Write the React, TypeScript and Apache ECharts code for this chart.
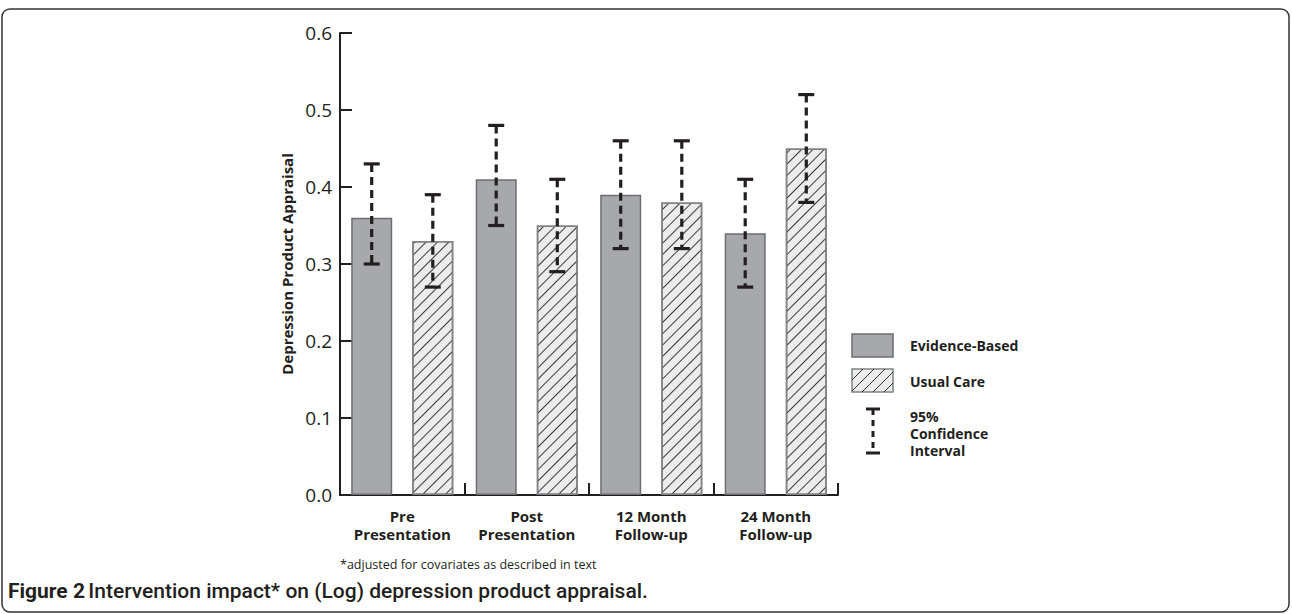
import React, { useEffect, useRef } from "react";
import * as echarts from "echarts";

const categories = ["Pre\nPresentation", "Post\nPresentation", "12 Month\nFollow-up", "24 Month\nFollow-up"];
const evidenceBased = [0.36, 0.41, 0.39, 0.34];
const evidenceLow = [0.30, 0.35, 0.32, 0.27];
const evidenceHigh = [0.43, 0.48, 0.46, 0.41];
const usualCare = [0.33, 0.35, 0.38, 0.45];
const usualLow = [0.27, 0.29, 0.32, 0.38];
const usualHigh = [0.39, 0.41, 0.46, 0.52];
const yTicks = [0, 0.1, 0.2, 0.3, 0.4, 0.5, 0.6];

const INK = "#231f20";
const BAR_W = 41;
const GAP_RATIO = 0.49;
const OFFSET = (BAR_W + BAR_W * GAP_RATIO) / 2;

function errorSeries(name: string, lows: number[], highs: number[], offset: number) {
  return {
    name,
    type: "custom",
    z: 10,
    data: lows.map((lo, i) => [i, lo, highs[i]]),
    encode: { x: 0, y: [1, 2] },
    renderItem: (_params: any, api: any) => {
      const i = api.value(0);
      const lo = api.coord([i, api.value(1)]);
      const hi = api.coord([i, api.value(2)]);
      const x = lo[0] + offset;
      const cap = 8;
      return {
        type: "group",
        children: [
          { type: "line", shape: { x1: x, y1: hi[1], x2: x, y2: lo[1] }, style: { stroke: INK, lineWidth: 3.2, lineDash: [8, 5] } },
          { type: "line", shape: { x1: x - cap, y1: hi[1], x2: x + cap, y2: hi[1] }, style: { stroke: INK, lineWidth: 3.2 } },
          { type: "line", shape: { x1: x - cap, y1: lo[1], x2: x + cap, y2: lo[1] }, style: { stroke: INK, lineWidth: 3.2 } },
        ],
      };
    },
  };
}

export default function App() {
  const ref = useRef<HTMLDivElement>(null);
  useEffect(() => {
    if (!ref.current) return;
    const chart = echarts.init(ref.current, null, { renderer: "svg" });
    const font = "'Open Sans', sans-serif";
    const hatchLines = [] as any[];
    // legend hatch swatch lines
    const sx = 852, sy = 369, sw = 41, sh = 23;
    for (let k = -sh; k < sw; k += 11) {
      const x1 = Math.max(sx, sx + k);
      const y1 = sy + sh - (x1 - (sx + k));
      const x2 = Math.min(sx + sw, sx + k + sh);
      const y2 = sy + sh - (x2 - (sx + k));
      hatchLines.push({ type: "line", shape: { x1, y1, x2, y2 }, style: { stroke: "#333", lineWidth: 1 } });
    }
    chart.setOption({
      animation: false,
      backgroundColor: "#fff",
      textStyle: { fontFamily: font },
      grid: { left: 340, right: 454, top: 33, bottom: 119 },
      xAxis: {
        type: "category",
        data: categories,
        axisLine: { lineStyle: { color: INK, width: 2 } },
        axisTick: { show: true, interval: 0, inside: true, length: 12, lineStyle: { color: INK, width: 2 } },
        axisLabel: { interval: 0, color: INK, fontFamily: font, fontWeight: "bold", fontSize: 15, lineHeight: 18, margin: 12 },
      },
      yAxis: {
        type: "value",
        min: 0,
        max: 0.6,
        interval: 0.1,
        name: "Depression Product Appraisal",
        nameLocation: "middle",
        nameRotate: 90,
        nameGap: 46,
        nameTextStyle: { color: INK, fontFamily: font, fontWeight: "bold", fontSize: 15 },
        splitLine: { show: false },
        axisLine: { show: true, lineStyle: { color: INK, width: 2 } },
        axisTick: { show: true, inside: true, length: 12, lineStyle: { color: INK, width: 2 } },
        axisLabel: {
          color: INK,
          fontSize: 19,
          margin: 8,
          fontFamily: font,
          formatter: (v: number) => (yTicks.some((t) => Math.abs(t - v) < 1e-9) ? v.toFixed(1) : ""),
        },
      },
      series: [
        {
          name: "Evidence-Based",
          type: "bar",
          data: evidenceBased,
          barWidth: BAR_W,
          barGap: GAP_RATIO * 100 + "%",
          itemStyle: { color: "#a7a8ab", borderColor: "#6d6e71", borderWidth: 1.5 },
        },
        {
          name: "Usual Care",
          type: "bar",
          data: usualCare,
          barWidth: BAR_W,
          itemStyle: {
            color: "#ececec",
            borderColor: "#808285",
            borderWidth: 1.5,
            decal: {
              symbol: "rect",
              symbolSize: 1,
              color: "#3a3a3a",
              dashArrayX: [1, 0],
              dashArrayY: [1, 7],
              rotation: -Math.PI / 4,
            },
          },
        },
        errorSeries("Evidence CI", evidenceLow, evidenceHigh, -OFFSET),
        errorSeries("Usual CI", usualLow, usualHigh, OFFSET),
      ],
      graphic: [
        { type: "rect", shape: { x: 2, y: 9, width: 1287, height: 603, r: 8 }, style: { fill: "none", stroke: "#333", lineWidth: 1.5 }, z: 0 },
        { type: "rect", shape: { x: 852, y: 334, width: 41, height: 23 }, style: { fill: "#a7a8ab", stroke: "#6d6e71", lineWidth: 1.5 } },
        { type: "rect", shape: { x: sx, y: sy, width: sw, height: sh }, style: { fill: "#ececec", stroke: "#808285", lineWidth: 1.5 } },
        ...hatchLines,
        { type: "text", x: 910, y: 345, style: { text: "Evidence-Based", fill: INK, font: `bold 14px ${font}`, textVerticalAlign: "middle" } },
        { type: "text", x: 910, y: 381, style: { text: "Usual Care", fill: INK, font: `bold 14px ${font}`, textVerticalAlign: "middle" } },
        { type: "line", shape: { x1: 873, y1: 409, x2: 873, y2: 453 }, style: { stroke: INK, lineWidth: 3, lineDash: [6, 5] } },
        { type: "line", shape: { x1: 866, y1: 409, x2: 880, y2: 409 }, style: { stroke: INK, lineWidth: 3 } },
        { type: "line", shape: { x1: 866, y1: 453, x2: 880, y2: 453 }, style: { stroke: INK, lineWidth: 3 } },
        { type: "text", x: 910, y: 408, style: { text: "95%\nConfidence\nInterval", fill: INK, font: `bold 14px ${font}`, lineHeight: 17 } },
        { type: "text", x: 340, y: 564, style: { text: "*adjusted for covariates as described in text", fill: INK, font: `12.5px ${font}`, textVerticalAlign: "middle" } },
        {
          type: "text",
          x: 8,
          y: 591,
          style: {
            text: "{b|Figure 2} {r|Intervention impact* on (Log) depression product appraisal.}",
            textVerticalAlign: "middle",
            rich: {
              b: { fontFamily: "Roboto, sans-serif", fontWeight: "bold", fontSize: 21, fill: INK },
              r: { fontFamily: "Roboto, sans-serif", fontWeight: 500, fontSize: 21, fill: INK },
            },
          },
        },
      ],
    });
    return () => chart.dispose();
  }, []);
  return <div ref={ref} style={{ position: "fixed", left: 0, top: 0, width: 1292, height: 614 }} />;
}
